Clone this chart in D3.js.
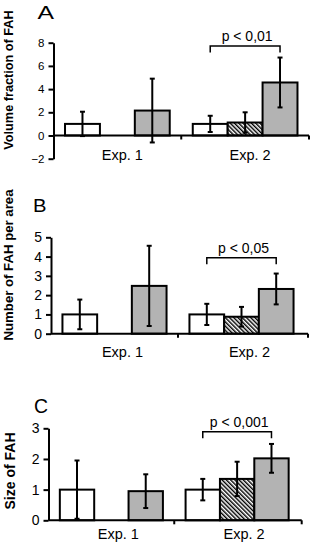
<!DOCTYPE html>
<html>
<head>
<meta charset="utf-8">
<script src="https://cdn.jsdelivr.net/npm/d3@7"></script>
<style>
	body { margin: 0; background: #fff; }
	svg { display: block; font-family: "Liberation Sans", Arial, sans-serif; }
	.axis path, .axis line { stroke: #000; stroke-width: 2; }
	.axis text { fill: #000; }
</style>
</head>
<body>
<div id="picture"></div>
<script>
// data
const groups     = ["Exp. 1", "Exp. 2"]
	, conditions = ["control", "hatched", "treated"];

// A : volume fraction of FAH
const volMean  = [[1.00, null, 2.15], [1.00, 1.12, 4.57]]
	, volErr   = [[1.05, null, 2.75], [0.70, 0.88, 2.15]]
	, volTicks = [-2, 0, 2, 4, 6, 8];
// B : number of FAH per area
const numMean  = [[1.00, null, 2.48], [1.00, 0.88, 2.32]]
	, numErr   = [[0.77, null, 2.08], [0.55, 0.51, 0.80]]
	, numTicks = [0, 1, 2, 3, 4, 5];
// C : size of FAH
const sizeMean  = [[1.00, null, 0.95], [1.00, 1.35, 2.02]]
	, sizeErr   = [[0.95, null, 0.55], [0.35, 0.56, 0.47]]
	, sizeTicks = [0, 1, 2, 3];

const sigLabels = ["p < 0,01", "p < 0,05", "p < 0,001"]
	, sigLevel  = [7.72, 3.94, 2.89];

// layout
const width  = 311
	, height = 547
	, fills  = ["#ffffff", "url(#hatch)", "#b3b3b3"];

const panels = [
	{ letter: "A", title: "Volume fraction of FAH", mean: volMean, err: volErr, ticks: volTicks,
	  domain: [-2, 8], yTop: 42.7, yBot: 158.7, xL: 53.5, xR: 309, axisEnd: 309,
	  tickFont: 11.5, titleFont: 12.7, titleX: 13.3, titleY: 80,
	  letterX: 37.5, letterY: 19, letterFont: 17.5, letterW: 16.5,
	  labelY: 160, labelDx: 5, sig: 0 },
	{ letter: "B", title: "Number of FAH per area", mean: numMean, err: numErr, ticks: numTicks,
	  domain: [0, 5], yTop: 237.3, yBot: 333.7, xL: 51, xR: 305, axisEnd: 308,
	  tickFont: 14, titleFont: 13.2, titleX: 13, titleY: 265,
	  letterX: 33, letterY: 211.5, letterFont: 18.5, letterW: 13.5,
	  labelY: 356.7, labelDx: 8, sig: 1 },
	{ letter: "C", title: "Size of FAH", mean: sizeMean, err: sizeErr, ticks: sizeTicks,
	  domain: [0, 3], yTop: 428.3, yBot: 520.3, xL: 48.5, xR: 300, axisEnd: 301.7,
	  tickFont: 14, titleFont: 14, titleX: 15, titleY: 471,
	  letterX: 34, letterY: 412.5, letterFont: 19.5, letterW: 14,
	  labelY: 538.5, labelDx: 7, sig: 2 }
];

const svg = d3.select("#picture")
	.append("svg")
		.attr("width", width)
		.attr("height", height);

// hatch pattern
svg.append("defs")
	.append("pattern")
		.attr("id", "hatch")
		.attr("patternUnits", "userSpaceOnUse")
		.attr("width", 3)
		.attr("height", 3)
		.attr("patternTransform", "rotate(-45)")
	.call(p => {
		p.append("rect").attr("width", 3).attr("height", 3).attr("fill", "#fff");
		p.append("line")
			.attr("x1", 0.7).attr("y1", 0)
			.attr("x2", 0.7).attr("y2", 3)
			.attr("stroke", "#000")
			.attr("stroke-width", 1.5);
	});

panels.forEach(drawPanel);

function drawPanel(pn) {
	const g = svg.append("g");

	const y = d3.scaleLinear()
		.domain(pn.domain)
		.range([pn.yBot, pn.yTop]);
	const x = d3.scaleBand()
		.domain(groups)
		.range([pn.xL, pn.xR]);
	const slot = d3.scaleBand()
		.domain(conditions)
		.range([0, x.bandwidth()])
		.paddingOuter(0.33);

	const y0 = y(0);

	// bars
	groups.forEach((grp, i) => {
		conditions.forEach((c, j) => {
			const v = pn.mean[i][j];
			if (v == null) return;
			const e = pn.err[i][j]
				, bx = x(grp) + slot(c)
				, cx = bx + slot.bandwidth() / 2;
			g.append("rect")
				.attr("x", bx)
				.attr("y", y(v))
				.attr("width", slot.bandwidth())
				.attr("height", y0 - y(v))
				.attr("fill", fills[j])
				.attr("stroke", "#000")
				.attr("stroke-width", 2);
			g.append("line")
				.attr("x1", cx).attr("x2", cx)
				.attr("y1", y(v + e)).attr("y2", y(v - e))
				.attr("stroke", "#000").attr("stroke-width", 2);
			[v + e, v - e].forEach(t => {
				g.append("line")
					.attr("x1", cx - 2.5).attr("x2", cx + 2.5)
					.attr("y1", y(t)).attr("y2", y(t))
					.attr("stroke", "#000").attr("stroke-width", 2);
			});
		});
	});

	// y axis
	g.append("g")
		.attr("class", "axis")
		.attr("transform", "translate(" + pn.xL + ",0)")
		.call(d3.axisLeft(y)
			.tickValues(pn.ticks)
			.tickFormat(d3.format("d"))
			.tickSize(5)
			.tickSizeOuter(0)
			.tickPadding(4))
		.call(a => a.selectAll("text").style("font-size", pn.tickFont + "px"));

	// x axis line with boundary ticks
	g.append("line")
		.attr("x1", pn.xL).attr("x2", pn.axisEnd)
		.attr("y1", y0).attr("y2", y0)
		.attr("stroke", "#000").attr("stroke-width", 2);
	[x(groups[1]), pn.axisEnd].forEach(tx => {
		g.append("line")
			.attr("x1", tx).attr("x2", tx)
			.attr("y1", y0).attr("y2", y0 + 4)
			.attr("stroke", "#000").attr("stroke-width", 2);
	});

	// category labels
	g.append("g")
		.attr("class", "axis")
		.attr("transform", "translate(" + pn.labelDx + "," + pn.labelY + ")")
		.call(d3.axisBottom(x).tickSize(0).tickPadding(0))
		.call(a => {
			a.select(".domain").remove();
			a.selectAll("text")
				.attr("dy", 0)
				.style("font-size", "14.5px");
		});

	// significance bracket
	const bx1 = x(groups[1]) + slot(conditions[0]) + slot.bandwidth() / 2
		, bx2 = x(groups[1]) + slot(conditions[2]) + slot.bandwidth() / 2
		, by  = y(sigLevel[pn.sig]);
	g.append("path")
		.attr("d", "M" + bx1 + "," + (by + 6.5) + "V" + by + "H" + bx2 + "V" + (by + 6.5))
		.attr("fill", "none")
		.attr("stroke", "#000")
		.attr("stroke-width", 1.5);
	g.append("text")
		.attr("x", (bx1 + bx2) / 2 + 2)
		.attr("y", by - 5)
		.attr("text-anchor", "middle")
		.style("font-size", "14px")
		.text(sigLabels[pn.sig]);

	// axis title
	g.append("text")
		.attr("transform", "translate(" + pn.titleX + "," + pn.titleY + ") rotate(-90)")
		.attr("text-anchor", "middle")
		.style("font-size", pn.titleFont + "px")
		.style("font-weight", "bold")
		.text(pn.title);

	// panel letter, a bit wider than the plain glyph
	g.append("text")
		.attr("x", pn.letterX)
		.attr("y", pn.letterY)
		.attr("textLength", pn.letterW)
		.attr("lengthAdjust", "spacingAndGlyphs")
		.style("font-size", pn.letterFont + "px")
		.text(pn.letter);
}
</script>
</body>
</html>
